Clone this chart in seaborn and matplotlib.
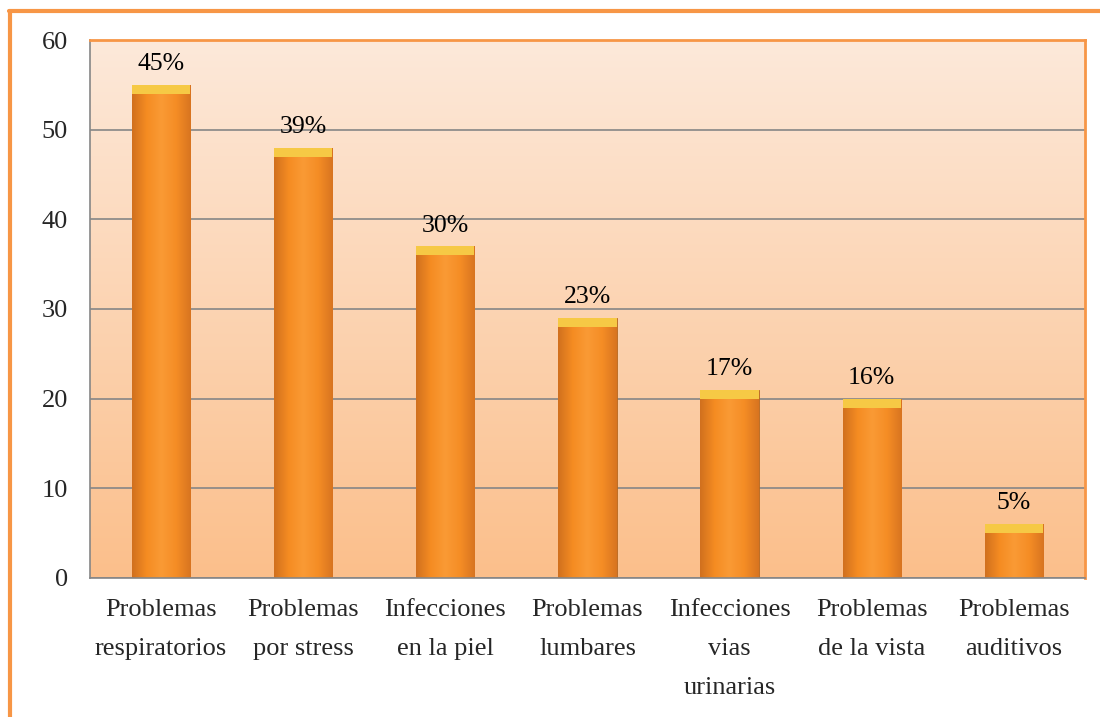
import numpy as np
import pandas as pd
import matplotlib.pyplot as plt
import seaborn as sns
from matplotlib.colors import LinearSegmentedColormap
from matplotlib.lines import Line2D

categorias = [
    "Problemas\nrespiratorios",
    "Problemas\npor stress",
    "Infecciones\nen la piel",
    "Problemas\nlumbares",
    "Infecciones\nvias\nurinarias",
    "Problemas\nde la vista",
    "Problemas\nauditivos",
]
casos = [55, 48, 37, 29, 21, 20, 6]
porcentajes = ["45%", "39%", "30%", "23%", "17%", "16%", "5%"]

df = pd.DataFrame({"categoria": categorias, "casos": casos})

sns.set_style("white")
plt.rcParams["font.family"] = ["Liberation Serif", "DejaVu Serif"]

fig = plt.figure(figsize=(11, 7.17), dpi=100)
ax = fig.add_axes([0.0818, 0.1939, 0.9045, 0.7503])

sns.barplot(data=df, x="categoria", y="casos", color="#F7931E",
            width=0.41, ax=ax, zorder=3)

ax.set_ylim(0, 60)
ax.set_xlim(-0.5, len(categorias) - 0.5)

# gradient background of the plot area
bg = LinearSegmentedColormap.from_list("bg", ["#FBBF8B", "#FDE9DA"])
grad = np.linspace(0, 1, 256).reshape(-1, 1)
ax.imshow(grad, cmap=bg, origin="lower", aspect="auto",
          extent=[-0.5, len(categorias) - 0.5, 0, 60], zorder=0)

# cylinder-ish shading on the bars plus a yellow cap
bar_cm = LinearSegmentedColormap.from_list(
    "bar", ["#D0701E", "#F58C22", "#FA9A35", "#F58D25", "#D87420"])
hgrad = np.linspace(0, 1, 256).reshape(1, -1)
for p in ax.patches:
    x0, w, h = p.get_x(), p.get_width(), p.get_height()
    im = ax.imshow(hgrad, cmap=bar_cm, aspect="auto",
                   extent=[x0, x0 + w, 0, h], zorder=3.5)
    im.set_clip_path(p)
    cap = plt.Rectangle((x0, h - 1.0), w, 1.0, color="#F6C945",
                        zorder=4, lw=0)
    ax.add_patch(cap)
    p.set_edgecolor("#B5651D")
    p.set_linewidth(0.6)

for p, txt in zip(ax.patches, porcentajes):
    ax.annotate(txt, (p.get_x() + p.get_width() / 2, p.get_height()),
                xytext=(0, 7), textcoords="offset points",
                ha="center", va="bottom", fontsize=18.5, color="black",
                zorder=6)

ax.set_yticks(range(0, 61, 10))
ax.yaxis.grid(True, color="#868686", lw=1.2)
for gl in ax.yaxis.get_gridlines():
    gl.set_zorder(1.5)

ax.set_xticks(np.arange(-0.5, len(categorias)), minor=False)
ax.set_xticklabels([])
ax.set_xticks(range(len(categorias)), minor=True)
ax.set_xticklabels(categorias, minor=True, fontsize=19, linespacing=2.0)
ax.tick_params(axis="x", which="major", length=7, color="#868686",
               direction="out", width=1.2)
ax.tick_params(axis="x", which="minor", length=0, pad=15)
ax.tick_params(axis="y", length=7, color="#868686", width=1.2,
               labelsize=19, pad=9)
ax.set_xlabel("")
ax.set_ylabel("")

for side in ["left", "bottom"]:
    ax.spines[side].set_color("#868686")
    ax.spines[side].set_linewidth(1.2)
for side in ["top", "right"]:
    ax.spines[side].set_color("#F79646")
    ax.spines[side].set_linewidth(2)
for s in ax.spines.values():
    s.set_zorder(5)

# outer orange frame (top and left edges)
fig.add_artist(Line2D([0.008, 1.0], [0.984, 0.984], color="#F79646",
                      lw=3, transform=fig.transFigure))
fig.add_artist(Line2D([0.0095, 0.0095], [0.0, 0.984], color="#F79646",
                      lw=3, transform=fig.transFigure))

fig.savefig("out.png", dpi=100)
